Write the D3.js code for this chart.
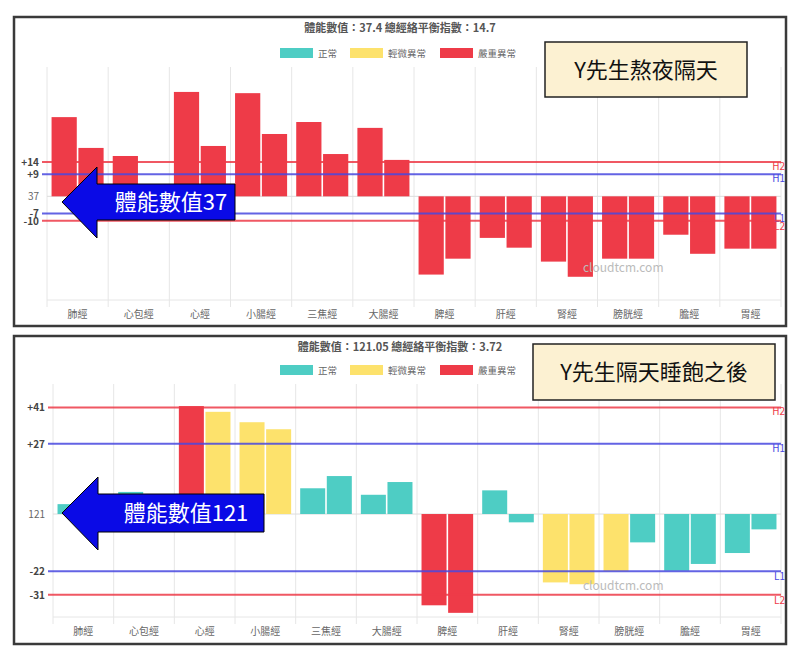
<!DOCTYPE html>
<html><head><meta charset="utf-8">
<script src="https://cdn.jsdelivr.net/npm/d3@7"></script>
<style>body{margin:0;background:#fff}svg{display:block}text{font-family:"Noto Sans CJK TC","Noto Sans",sans-serif}</style>
</head><body><svg id="c" width="800" height="661"></svg>
<script>
const categories=["肺經","心包經","心經","小腸經","三焦經","大腸經","脾經","肝經","腎經","膀胱經","膽經","胃經"];
const legendLabels=["正常","輕微異常","嚴重異常"];
// panel 1 (熬夜隔天)
const p1Title="體能數值：37.4 總經絡平衡指數：14.7";
const p1Note="Y先生熬夜隔天";
const p1Arrow="體能數值37";
const p1Base="37";
const p1A=[32.4,16.5,42.7,42.2,30.4,28.0,-32.0,-17.0,-26.7,-25.5,-15.7,-21.4];
const p1B=[19.8,3,20.6,25.5,17.3,14.9,-25.5,-21.0,-32.9,-25.5,-23.5,-21.4];
const p1SA=[2,2,2,2,2,2,2,2,2,2,2,2];
const p1SB=[2,2,2,2,2,2,2,2,2,2,2,2];
const p1Lines=[{v:14,t:"+14",n:"H2",c:"r"},{v:9,t:"+9",n:"H1",c:"b"},{v:-7,t:"-7",n:"L1",c:"b"},{v:-10,t:"-10",n:"L2",c:"r"}];
// panel 2 (隔天睡飽之後)
const p2Title="體能數值：121.05 總經絡平衡指數：3.72";
const p2Note="Y先生隔天睡飽之後";
const p2Arrow="體能數值121";
const p2Base="121";
const p2A=[3.8,8.5,41.5,35.3,9.9,7.4,-35.1,9.1,-26.3,-22.0,-21.8,-15.0];
const p2B=[2,2,39.3,32.6,14.6,12.3,-38.0,-3.2,-27.0,-10.9,-19.2,-5.9];
const p2SA=[0,0,2,1,0,0,2,0,1,1,0,0];
const p2SB=[0,0,1,1,0,0,2,0,1,0,0,0];
const p2Lines=[{v:41,t:"+41",n:"H2",c:"r"},{v:27,t:"+27",n:"H1",c:"b"},{v:-22,t:"-22",n:"L1",c:"b"},{v:-31,t:"-31",n:"L2",c:"r"}];

const colors=["#4ecdc4","#fde26c","#ee3b48"];
const lineCol={r:"#ee3b48",b:"#4848e0"};
const svg=d3.select("#c");

function panel(o){
  const g=svg.append("g");
  g.append("rect").attr("x",o.box[0]).attr("y",o.box[1]).attr("width",o.box[2]).attr("height",o.box[3])
   .attr("fill","#fff").attr("stroke","#3a3a3a").attr("stroke-width",2.5);
  const x=d3.scaleBand().domain(categories).range([o.x0,o.x1]);
  const xi=d3.scaleBand().domain([0,1]).range([0,x.bandwidth()]).paddingInner(0.06).paddingOuter(0.17);
  const y=d3.scaleLinear().domain(o.dom).range([o.yb,o.yt]);
  // grid verticals
  const ticks=categories.map((c,i)=>x(c)).concat([o.x1]);
  g.selectAll(".gv").data(ticks).join("line").attr("x1",d=>d).attr("x2",d=>d)
   .attr("y1",o.yt).attr("y2",o.yb+7).attr("stroke","#e6e6e6");
  g.append("line").attr("x1",o.x0).attr("x2",o.x1).attr("y1",o.yb).attr("y2",o.yb).attr("stroke","#e6e6e6");
  g.append("line").attr("x1",o.x0).attr("x2",o.x1).attr("y1",y(0)).attr("y2",y(0)).attr("stroke","#ddd");
  // x labels
  g.selectAll(".xl").data(categories).join("text").attr("x",d=>x(d)+x.bandwidth()/2).attr("y",o.yb+18)
   .attr("text-anchor","middle").attr("font-size",10).attr("fill","#666").text(d=>d);
  // bars
  [[o.A,o.SA],[o.B,o.SB]].forEach((s,k)=>{
    g.selectAll(".b"+k).data(s[0]).join("rect")
     .attr("x",(d,i)=>x(categories[i])+xi(k)).attr("width",xi.bandwidth())
     .attr("y",d=>y(Math.max(0,d))).attr("height",d=>Math.abs(y(d)-y(0)))
     .attr("fill",(d,i)=>colors[s[1][i]]);
  });
  // threshold lines
  o.lines.forEach(l=>{
    g.append("line").attr("x1",o.x0-5).attr("x2",o.x1).attr("y1",y(l.v)).attr("y2",y(l.v))
     .attr("stroke",lineCol[l.c]).attr("stroke-width",2).attr("opacity",0.85);
    g.append("text").attr("x",o.x0-8).attr("y",y(l.v)+4).attr("text-anchor","end").attr("font-size",10)
     .attr("font-weight","bold").attr("fill","#444").text(l.t);
    g.append("text").attr("x",o.x1+4).attr("y",y(l.v)+(l.n[0]=="H"?8:9)).attr("text-anchor","end").attr("font-size",10)
     .attr("fill",lineCol[l.c]).text(l.n);
  });
  g.append("text").attr("x",o.x0-8).attr("y",y(0)+4).attr("text-anchor","end").attr("font-size",10).attr("fill","#666").text(o.base);
  // title + legend
  g.append("text").attr("x",400).attr("y",o.ty).attr("text-anchor","middle").attr("font-size",11)
   .attr("font-weight","bold").attr("fill","#555").text(o.title);
  const lx=[280,350,440];
  legendLabels.forEach((t,i)=>{
    g.append("rect").attr("x",lx[i]).attr("y",o.ly-5).attr("width",33).attr("height",10).attr("fill",colors[i]);
    g.append("text").attr("x",lx[i]+38).attr("y",o.ly+4).attr("font-size",9.5).attr("fill","#666").text(t);
  });
  g.append("text").attr("x",o.wm[0]).attr("y",o.wm[1]).attr("font-size",12).attr("fill","#bbb").text("cloudtcm.com");
  // note box
  const nb=o.note;
  g.append("rect").attr("x",nb[0]).attr("y",nb[1]).attr("width",nb[2]).attr("height",nb[3])
   .attr("fill","#fcf1d2").attr("stroke","#222").attr("stroke-width",1.5);
  g.append("text").attr("x",nb[0]+nb[2]/2).attr("y",nb[1]+nb[3]/2+8).attr("text-anchor","middle")
   .attr("font-size",22).attr("fill","#111").text(o.noteText);
  // arrow
  const a=o.arrow; // [tipX, headX, headTop, headBot, rectTop, rectBot, rectRight]
  const cy=(a[4]+a[5])/2;
  g.append("path").attr("d",`M${a[0]},${cy}L${a[1]},${a[2]}L${a[1]},${a[4]}L${a[6]},${a[4]}L${a[6]},${a[5]}L${a[1]},${a[5]}L${a[1]},${a[3]}Z`)
   .attr("fill","#0a0ae6").attr("stroke","#000").attr("stroke-width",1);
  g.append("text").attr("x",(a[1]+a[6])/2+5).attr("y",cy+8).attr("text-anchor","middle").attr("font-size",22)
   .attr("fill","#fff").text(o.arrowText);
}
panel({box:[14,17,772,309],x0:47,x1:781,yt:67,yb:300,dom:[-42.4,52.9],A:p1A,B:p1B,SA:p1SA,SB:p1SB,lines:p1Lines,
  base:p1Base,title:p1Title,ty:32,ly:53,wm:[583,272],note:[545,42,202,55],noteText:p1Note,
  arrow:[62,97,167,238,184,220,235],arrowText:p1Arrow});
panel({box:[14,336,772,308],x0:53,x1:781,yt:384,yb:617,dom:[-39.6,50],A:p2A,B:p2B,SA:p2SA,SB:p2SB,lines:p2Lines,
  base:p2Base,title:p2Title,ty:351,ly:370,wm:[583,590],note:[533,344,242,56],noteText:p2Note,
  arrow:[62,98,477,550,494,532,264],arrowText:p2Arrow});
</script></body></html>
